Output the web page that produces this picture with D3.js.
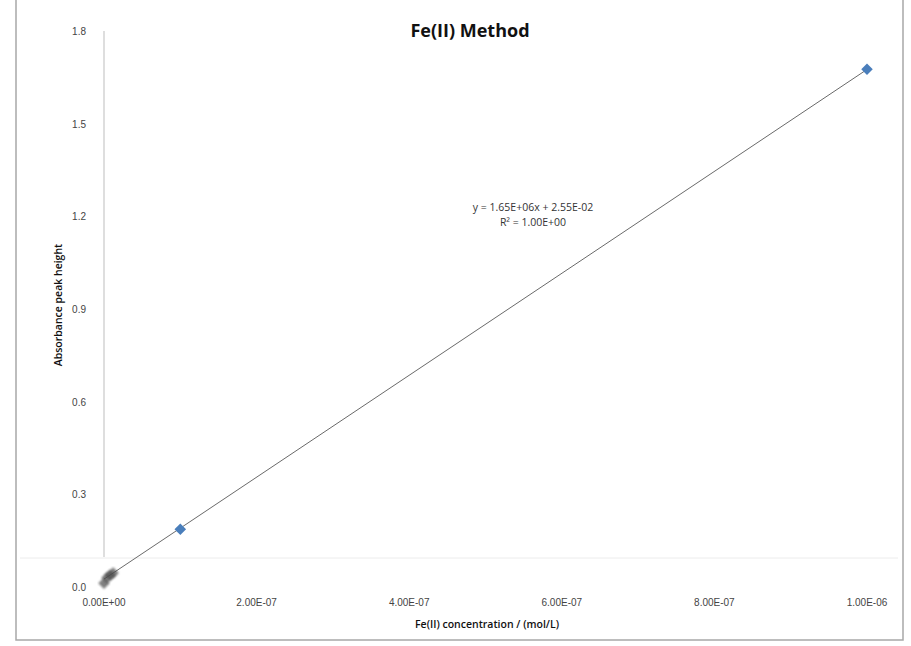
<!DOCTYPE html>
<html lang="en">
<head>
    <meta charset="UTF-8">
    <title>Fe(II) Method</title>
    <script src="https://d3js.org/d3.v7.min.js"></script>
    <style>
        body { margin: 0; background: #fff; }
        .tick-label { font-family: 'Liberation Sans', Arial, sans-serif; font-size: 10px; fill: #444; }
        .axis-title { font-family: 'Open Sans', 'Noto Sans', sans-serif; font-size: 10.5px; font-weight: 600; fill: #111; }
        .eq { font-family: 'Open Sans', 'Noto Sans', sans-serif; font-size: 10.5px; fill: #333; }
    </style>
</head>
<body>
<svg id="chart" width="911" height="646"></svg>
<script>
    // data
    const xTicks = [0, 2e-7, 4e-7, 6e-7, 8e-7, 1e-6];
    const xTickLabels = ["0.00E+00", "2.00E-07", "4.00E-07", "6.00E-07", "8.00E-07", "1.00E-06"];
    const yTicks = [0, 0.3, 0.6, 0.9, 1.2, 1.5, 1.8];
    const yTickLabels = ["0.0", "0.3", "0.6", "0.9", "1.2", "1.5", "1.8"];

    const concentration = [1e-7, 1e-6];
    const absorbance = [0.187, 1.676];
    // faded points crowded near the origin
    const lowConc = [0, 4e-9, 8e-9, 1.2e-8];
    const lowAbs = [0.012, 0.03, 0.038, 0.045];

    const slope = 1.65e6, intercept = 2.55e-2;
    const eqLines = ["y = 1.65E+06x + 2.55E-02", "R\u00b2 = 1.00E+00"];

    const svg = d3.select("#chart");

    const x = d3.scaleLinear().domain([0, 1e-6]).range([104, 867]);
    const y = d3.scaleLinear().domain([0, 1.8]).range([587, 31]);

    const defs = svg.append("defs");
    defs.append("filter").attr("id", "soft")
        .append("feGaussianBlur").attr("stdDeviation", 0.8);

    // outer frame
    svg.append("path")
       .attr("d", "M16,0 V640 H903 V0")
       .attr("fill", "none")
       .attr("stroke", "#a8a8a8")
       .attr("stroke-width", 1.5);

    // faint band line near the bottom
    svg.append("line")
       .attr("x1", 20).attr("x2", 898)
       .attr("y1", 558).attr("y2", 558)
       .attr("stroke", "#ececec");

    // y axis line
    svg.append("line")
       .attr("x1", x(0)).attr("x2", x(0))
       .attr("y1", y(1.8)).attr("y2", 557)
       .attr("stroke", "#bdbdbd");

    // y tick labels
    svg.selectAll(".ytl")
       .data(yTicks)
       .enter()
       .append("text")
       .attr("class", "tick-label")
       .attr("x", 86)
       .attr("y", d => y(d) + 4)
       .attr("text-anchor", "end")
       .text((d, i) => yTickLabels[i]);

    // x tick labels
    svg.selectAll(".xtl")
       .data(xTicks)
       .enter()
       .append("text")
       .attr("class", "tick-label")
       .attr("x", d => x(d))
       .attr("y", 606)
       .attr("text-anchor", "middle")
       .text((d, i) => xTickLabels[i]);

    // title
    svg.append("text")
       .attr("x", 470)
       .attr("y", 37)
       .attr("text-anchor", "middle")
       .style("font-family", "'Open Sans', 'Noto Sans', sans-serif")
       .style("font-size", "18px")
       .style("font-weight", "700")
       .style("fill", "#111")
       .text("Fe(II) Method");

    // axis titles
    svg.append("text")
       .attr("class", "axis-title")
       .attr("transform", "translate(62,305) rotate(-90)")
       .attr("text-anchor", "middle")
       .text("Absorbance peak height");

    svg.append("text")
       .attr("class", "axis-title")
       .attr("x", 487)
       .attr("y", 628)
       .attr("text-anchor", "middle")
       .text("Fe(II) concentration / (mol/L)");

    // linear trendline
    const line = d3.line().x(d => x(d)).y(d => y(slope * d + intercept));
    svg.append("path")
       .datum([0, 1e-6])
       .attr("d", line)
       .attr("fill", "none")
       .attr("stroke", "#6a6a6a")
       .attr("stroke-width", 1);

    // equation
    svg.selectAll(".eq")
       .data(eqLines)
       .enter()
       .append("text")
       .attr("class", "eq")
       .attr("x", 533)
       .attr("y", (d, i) => 211 + i * 15)
       .attr("text-anchor", "middle")
       .text(d => d);

    const diamond = d3.symbol().type(d3.symbolDiamond2).size(85);

    // faded grey markers near origin
    svg.selectAll(".low")
       .data(lowConc)
       .enter()
       .append("path")
       .attr("d", diamond)
       .attr("transform", (d, i) => `translate(${x(d)},${y(lowAbs[i])})`)
       .attr("fill", "#4a4a4a")
       .attr("opacity", 0.7)
       .attr("filter", "url(#soft)");

    // blue markers
    svg.selectAll(".pt")
       .data(concentration)
       .enter()
       .append("path")
       .attr("d", diamond)
       .attr("transform", (d, i) => `translate(${x(d)},${y(absorbance[i])})`)
       .attr("fill", "#4a7ebb");
</script>
</body>
</html>
